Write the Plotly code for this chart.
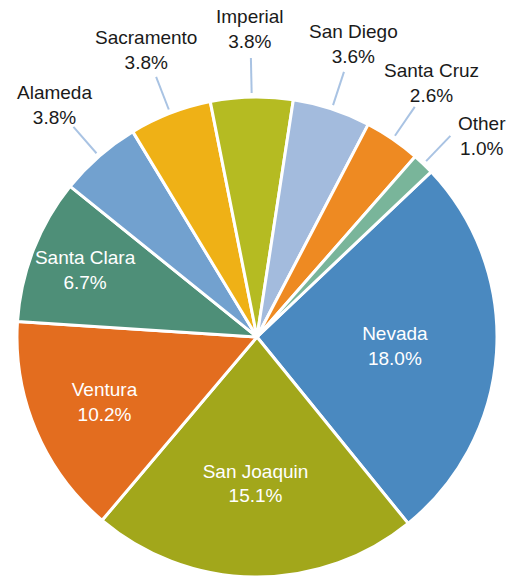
import math
import plotly.graph_objects as go

labels = ["Nevada", "San Joaquin", "Ventura", "Santa Clara", "Alameda",
          "Sacramento", "Imperial", "San Diego", "Santa Cruz", "Other"]
values = [18.0, 15.1, 10.2, 6.7, 3.8, 3.8, 3.8, 3.6, 2.6, 1.0]
colors = ["#4a89c0", "#a2a71b", "#e36d1f", "#4e8f78", "#72a1cf",
          "#efb116", "#b5bb22", "#a3bbdd", "#ee8a22", "#79b59a"]
inside = [True, True, True, True, False, False, False, False, False, False]

W, H = 510, 577
CX, CY, R = 257, 337, 240
ROT = 46.5
FS = 19
FONT = "Liberation Sans, Arial, Helvetica, sans-serif"

texts = [f"{l}<br>{v:.1f}%" for l, v in zip(labels, values)]

fig = go.Figure(go.Pie(
    labels=labels, values=values, sort=False, direction="clockwise",
    rotation=ROT,
    marker=dict(colors=colors, line=dict(color="white", width=3)),
    text=[t if i else "" for t, i in zip(texts, inside)],
    textinfo="text",
    textposition=["inside" if i else "none" for i in inside],
    insidetextorientation="horizontal",
    insidetextfont=dict(color="white", size=FS, family=FONT),
    hoverinfo="label+value",
    domain=dict(x=[(CX - R) / W, (CX + R) / W], y=[1 - (CY + R) / H, 1 - (CY - R) / H]),
    showlegend=False,
))

total = sum(values)
cum = 0.0
annotations = []
shapes = []
for lab, v, t, ins in zip(labels, values, texts, inside):
    mid = ROT + (cum + v / 2) / total * 360.0
    cum += v
    if ins:
        continue
    a = math.radians(mid)
    s, c = math.sin(a), math.cos(a)
    ex, ey = CX + (R + 39) * s, CY - (R + 39) * c
    shapes.append(dict(type="line", xref="paper", yref="paper",
                       x0=(CX + (R + 4) * s) / W, y0=1 - (CY - (R + 4) * c) / H,
                       x1=ex / W, y1=1 - ey / H,
                       line=dict(color="#a9c3e3", width=2)))
    ang = ((mid + 180) % 360) - 180  # signed angle from 12 o'clock
    if abs(ang) > 43:
        side = 1 if ang > 0 else -1
        annotations.append(dict(x=(ex + side * 6) / W, y=1 - ey / H, xref="paper", yref="paper",
                                text=t, showarrow=False,
                                xanchor="left" if side > 0 else "right", yanchor="middle",
                                font=dict(size=FS, color="#1a1a1a", family=FONT)))
    else:
        tx, ty = CX + (R + 68) * s, CY - (R + 68) * c
        annotations.append(dict(x=tx / W, y=1 - ty / H, xref="paper", yref="paper", text=t,
                                showarrow=False, xanchor="center", yanchor="middle",
                                font=dict(size=FS, color="#1a1a1a", family=FONT)))

fig.update_layout(
    width=W, height=H, margin=dict(l=0, r=0, t=0, b=0),
    paper_bgcolor="white", plot_bgcolor="white",
    annotations=annotations, shapes=shapes,
)
fig.write_html("out.html", config={"displayModeBar": False},
               post_script="document.body.style.margin='0';")
